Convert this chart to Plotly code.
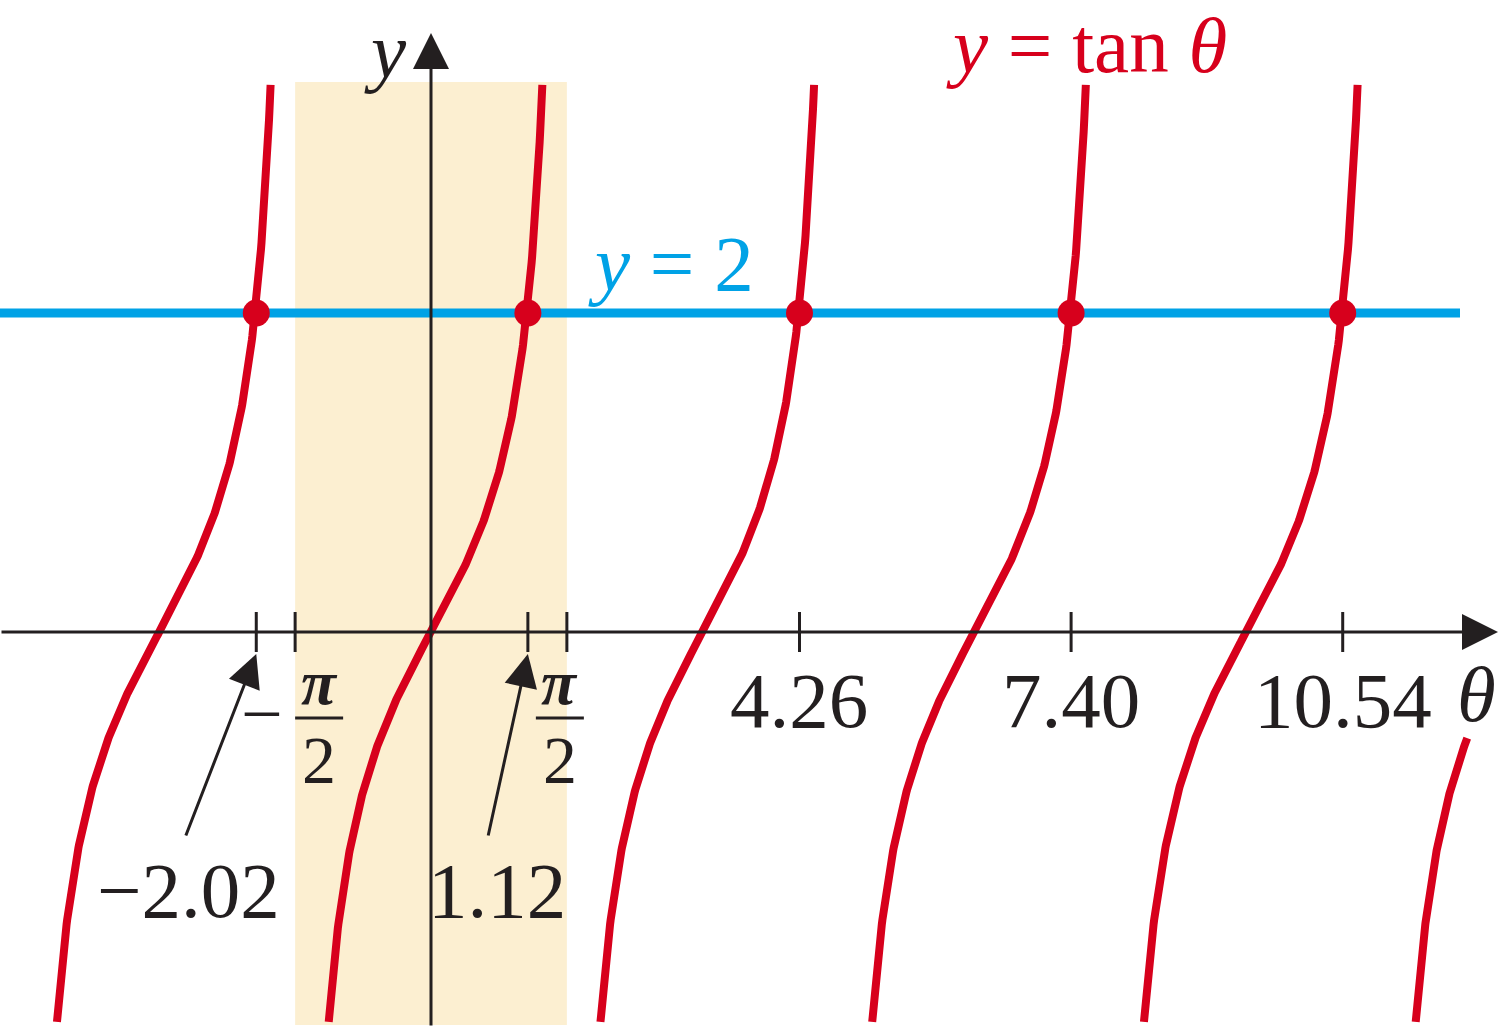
import numpy as np
import plotly.graph_objects as go

# ---- data ----
branch_k = [-1, 0, 1, 2, 3]          # full branches of tan, centred on k*pi
y_top = 3.43                          # where each branch is cut at the top
y_bottom = -2.445                     # where each branch is cut at the bottom
partial_k = 4                         # partial branch at the right edge
partial_top = -0.665
level = 2                             # the horizontal line y = 2
roots = [-2.02, 1.12, 4.26, 7.40, 10.54]
tick_vals = [-2.02, -np.pi / 2, 1.12, np.pi / 2, 4.26, 7.40, 10.54]
plain_labels = ["4.26", "7.40", "10.54"]
plain_vals = [4.26, 7.40, 10.54]
arrow_labels = ["\u22122.02", "1.12"]
arrow_vals = [-2.02, 1.12]
frac_vals = [-np.pi / 2, np.pi / 2]
band = [-np.pi / 2, np.pi / 2]

# ---- styling / geometry ----
RED = "#D7001C"
BLUE = "#00A2E6"
BAND = "#FCEFD1"
BLACK = "#231F20"
FONT = "Liberation Serif, Times New Roman, serif"
FS = 79
W, H = 1500, 1027
X0PX, Y0PX = 431, 632     # pixel of origin
SX, SY = 86.5, 159.5      # px per unit


def dx(p):
    return p / SX


def dy(p):
    return p / SY


xmin, xmax = -X0PX / SX, (W - X0PX) / SX
ymin, ymax = -(H - Y0PX) / SY, Y0PX / SY

fig = go.Figure()

# tan branches
for k in branch_k:
    th = np.linspace(k * np.pi + np.arctan(y_bottom), k * np.pi + np.arctan(y_top), 400)
    fig.add_trace(go.Scatter(x=th, y=np.tan(th), mode="lines",
                             line=dict(color=RED, width=8), hoverinfo="skip"))
th = np.linspace(partial_k * np.pi + np.arctan(y_bottom), partial_k * np.pi + np.arctan(partial_top), 200)
fig.add_trace(go.Scatter(x=th, y=np.tan(th), mode="lines",
                         line=dict(color=RED, width=8), hoverinfo="skip"))

# y = 2 line
fig.add_trace(go.Scatter(x=[xmin, xmin + dx(1460)], y=[level, level], mode="lines",
                         line=dict(color=BLUE, width=9), hoverinfo="skip"))
# intersection dots
fig.add_trace(go.Scatter(x=roots, y=[level] * len(roots), mode="markers",
                         marker=dict(color=RED, size=27, line=dict(width=0)),
                         hoverinfo="skip"))

shapes = []
# shaded band
shapes.append(dict(type="rect", x0=band[0], x1=band[1], y0=ymin + dy(2), y1=ymax - dy(82),
                   fillcolor=BAND, line=dict(width=0), layer="below"))
# ticks
for t in tick_vals:
    shapes.append(dict(type="line", x0=t, x1=t, y0=dy(20), y1=-dy(20),
                       line=dict(color=BLACK, width=3)))

annotations = []
# x axis with arrow
annotations.append(dict(x=xmin + dx(1498), y=0, ax=xmin, ay=0, xref="x", yref="y",
                        axref="x", ayref="y", showarrow=True, arrowhead=2, arrowsize=2.4,
                        arrowwidth=3, arrowcolor=BLACK, text="", standoff=0, startstandoff=0))
# y axis with arrow
annotations.append(dict(x=0, y=ymax - dy(33), ax=0, ay=ymin, xref="x", yref="y",
                        axref="x", ayref="y", showarrow=True, arrowhead=2, arrowsize=2.4,
                        arrowwidth=3, arrowcolor=BLACK, text="", standoff=0, startstandoff=0))

# plain tick labels
for lab, v in zip(plain_labels, plain_vals):
    annotations.append(dict(x=v, y=-dy(68), text=lab, showarrow=False, xref="x", yref="y",
                            font=dict(family=FONT, size=FS, color=BLACK),
                            xanchor="center", yanchor="middle"))

# arrowed tick labels
arrow_off = [(-71, -68), (-40, -31)]   # (tail offset px, label offset px)
for lab, v, (toff, loff) in zip(arrow_labels, arrow_vals, arrow_off):
    annotations.append(dict(x=v, y=-dy(22), ax=v + dx(toff), ay=-dy(205), xref="x", yref="y",
                            axref="x", ayref="y", showarrow=True, arrowhead=2, arrowsize=2.2,
                            arrowwidth=3, arrowcolor=BLACK, text="", standoff=0))
    annotations.append(dict(x=v + dx(loff), y=-dy(258), text=lab, showarrow=False,
                            xref="x", yref="y", font=dict(family=FONT, size=FS, color=BLACK),
                            xanchor="center", yanchor="middle"))

# pi/2 fractions
for v in frac_vals:
    cx = v + (dx(24) if v < 0 else dx(-7))
    annotations.append(dict(x=cx, y=-dy(88), text="<b><i>\u03c0</i></b>", showarrow=False,
                            xref="x", yref="y", font=dict(family=FONT, size=64, color=BLACK),
                            xanchor="center", yanchor="bottom"))
    shapes.append(dict(type="line", x0=cx - dx(24), x1=cx + dx(24), y0=-dy(86), y1=-dy(86),
                       line=dict(color=BLACK, width=3)))
    annotations.append(dict(x=cx, y=-dy(88), text="2", showarrow=False,
                            xref="x", yref="y", font=dict(family=FONT, size=68, color=BLACK),
                            xanchor="center", yanchor="top"))
    if v < 0:
        annotations.append(dict(x=cx - dx(57), y=-dy(82), text="\u2212", showarrow=False,
                                xref="x", yref="y", font=dict(family=FONT, size=74, color=BLACK),
                                xanchor="center", yanchor="middle"))

# axis names and curve labels
annotations.append(dict(x=xmin + dx(1476), y=-dy(62), text="<i>\u03b8</i>", showarrow=False,
                        xref="x", yref="y", font=dict(family=FONT, size=FS, color=BLACK),
                        xanchor="center", yanchor="middle"))
annotations.append(dict(x=-dx(46), y=ymax - dy(50), text="<i>y</i>", showarrow=False,
                        xref="x", yref="y", font=dict(family=FONT, size=FS, color=BLACK),
                        xanchor="center", yanchor="middle"))
annotations.append(dict(x=xmin + dx(1086), y=ymax - dy(45),
                        text="<i>y</i> = tan <i>\u03b8</i>",
                        showarrow=False, xref="x", yref="y",
                        font=dict(family=FONT, size=FS, color=RED),
                        xanchor="center", yanchor="middle"))
annotations.append(dict(x=xmin + dx(671), y=level + dy(50), text="<i>y</i> = 2",
                        showarrow=False, xref="x", yref="y",
                        font=dict(family=FONT, size=FS, color=BLUE),
                        xanchor="center", yanchor="middle"))

fig.update_layout(
    width=W, height=H, margin=dict(l=0, r=0, t=0, b=0),
    paper_bgcolor="white", plot_bgcolor="white", showlegend=False,
    xaxis=dict(range=[xmin, xmax], visible=False, fixedrange=True),
    yaxis=dict(range=[ymin, ymax], visible=False, fixedrange=True),
    shapes=shapes, annotations=annotations,
)

fig.write_html("out.html", config={"displayModeBar": False},
               post_script="document.body.style.margin='0px';document.body.style.overflow='hidden';")
